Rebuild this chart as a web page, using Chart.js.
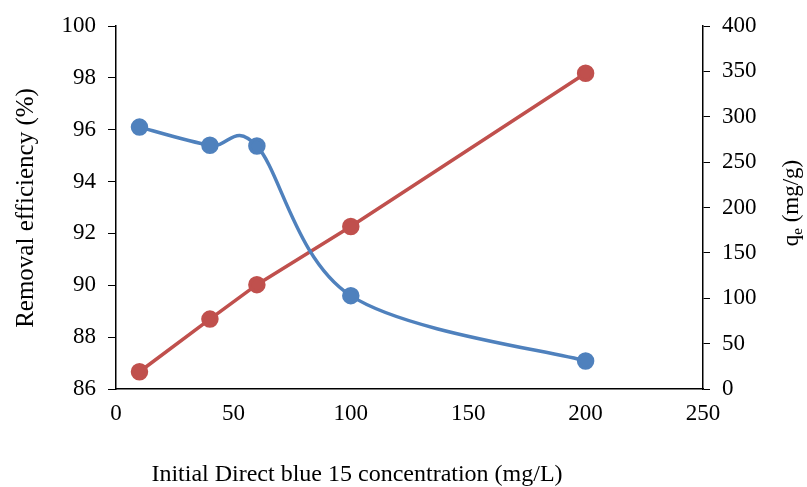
<!DOCTYPE html>
<html>
<head>
<meta charset="utf-8">
<script src="https://cdn.jsdelivr.net/npm/chart.js@4.4.0/dist/chart.umd.min.js"></script>
<style>
  html, body { margin: 0; padding: 0; background: #fff; }
  #wrap { width: 807px; height: 487px; }
</style>
</head>
<body>
<div id="wrap"><canvas id="myChart" width="807" height="487"></canvas></div>
<script>
// data
var concentration = [10, 40, 60, 100, 200];        // mg/L
var removal = [96.1, 95.4, 95.37, 89.6, 87.08];    // %
var qe = [19, 77, 115, 179, 348];                  // mg/g

var xTicks = [0, 50, 100, 150, 200, 250];

var font = "Liberation Serif, Times New Roman, serif";

// excel style smoothing: tangent = (next - prev) / 6
var excelSmooth = {
	id: 'excelSmooth',
	beforeDatasetDraw: function(chart, args) {
		var ds = chart.data.datasets[args.index];
		if (!ds.excelSmooth) return;
		var meta = args.meta;
		var line = meta.dataset;
		line.updateControlPoints(chart.chartArea);
		var pts = meta.data;
		for (var i = 0; i < pts.length; i++) {
			var p = pts[i];
			var prev = pts[i - 1] || p;
			var next = pts[i + 1] || p;
			var tx = (next.x - prev.x) / 6;
			var ty = (next.y - prev.y) / 6;
			p.cp1x = p.x - tx; p.cp1y = p.y - ty;
			p.cp2x = p.x + tx; p.cp2y = p.y + ty;
		}
	}
};

// axis titles drawn by hand (subscript e, off-centre x title)
var titles = {
	id: 'titles',
	afterDraw: function(chart) {
		var ctx = chart.ctx;
		ctx.save();
		ctx.fillStyle = '#000';
		ctx.textAlign = 'center';
		ctx.textBaseline = 'middle';

		// x title
		ctx.font = '24px ' + font;
		ctx.fillText('Initial Direct blue 15 concentration (mg/L)', 357, 475);

		// left title
		ctx.save();
		ctx.translate(26, 208);
		ctx.rotate(-Math.PI / 2);
		ctx.font = '25px ' + font;
		ctx.fillText('Removal efficiency (%)', 0, 0);
		ctx.restore();

		// right title q_e (mg/g)
		ctx.save();
		ctx.translate(792, 203);
		ctx.rotate(-Math.PI / 2);
		ctx.textAlign = 'left';
		var t1 = 'q', t2 = 'e', t3 = ' (mg/g)';
		ctx.font = '23px ' + font;
		var w1 = ctx.measureText(t1).width;
		var w3 = ctx.measureText(t3).width;
		ctx.font = '15px ' + font;
		var w2 = ctx.measureText(t2).width;
		var x0 = -(w1 + w2 + w3) / 2;
		ctx.font = '23px ' + font;
		ctx.fillText(t1, x0, 0);
		ctx.font = '15px ' + font;
		ctx.fillText(t2, x0 + w1, 6);
		ctx.font = '23px ' + font;
		ctx.fillText(t3, x0 + w1 + w2, 0);
		ctx.restore();

		ctx.restore();
	}
};

var $chart = document.getElementById('myChart');

var myChart = new Chart($chart, {
	type: 'line',
	data: {
		datasets: [{
			label: 'Removal efficiency',
			data: concentration.map(function(c, i) { return { x: c, y: removal[i] }; }),
			yAxisID: 'y',
			borderColor: '#4F81BD',
			backgroundColor: '#4F81BD',
			borderWidth: 3.5,
			pointRadius: 7,
			pointHoverRadius: 7,
			tension: 0.4,
			excelSmooth: true,
			fill: false
		}, {
			label: 'qe',
			data: concentration.map(function(c, i) { return { x: c, y: qe[i] }; }),
			yAxisID: 'y1',
			borderColor: '#C0504D',
			backgroundColor: '#C0504D',
			borderWidth: 3.5,
			pointRadius: 7,
			pointHoverRadius: 7,
			tension: 0,
			fill: false
		}]
	},
	options: {
		responsive: false,
		animation: false,
		layout: { padding: { top: 26, left: 0, right: 0, bottom: 0 } },
		plugins: {
			legend: { display: false },
			tooltip: { enabled: false }
		},
		scales: {
			x: {
				type: 'linear',
				min: 0,
				max: 250,
				afterBuildTicks: function(scale) {
					scale.ticks = xTicks.map(function(v) { return { value: v }; });
				},
				afterFit: function(scale) { scale.height = 98; },
				grid: { drawOnChartArea: false, drawTicks: false },
				border: { display: true, color: '#000', width: 1.5 },
				ticks: { color: '#000', font: { family: font, size: 23 }, padding: 11, maxRotation: 0 }
			},
			y: {
				position: 'left',
				min: 86,
				max: 100,
				afterFit: function(scale) { scale.width = 116; },
				grid: { drawOnChartArea: false, drawTicks: true, tickLength: 8, color: '#000' },
				border: { display: true, color: '#000', width: 1.5 },
				ticks: { stepSize: 2, color: '#000', font: { family: font, size: 23 }, padding: 12 }
			},
			y1: {
				position: 'right',
				min: 0,
				max: 400,
				afterFit: function(scale) { scale.width = 104; },
				grid: { drawOnChartArea: false, drawTicks: true, tickLength: 7, color: '#000' },
				border: { display: true, color: '#000', width: 1.5 },
				ticks: { stepSize: 50, color: '#000', font: { family: font, size: 23 }, padding: 12 }
			}
		}
	},
	plugins: [excelSmooth, titles]
});
</script>
</body>
</html>
